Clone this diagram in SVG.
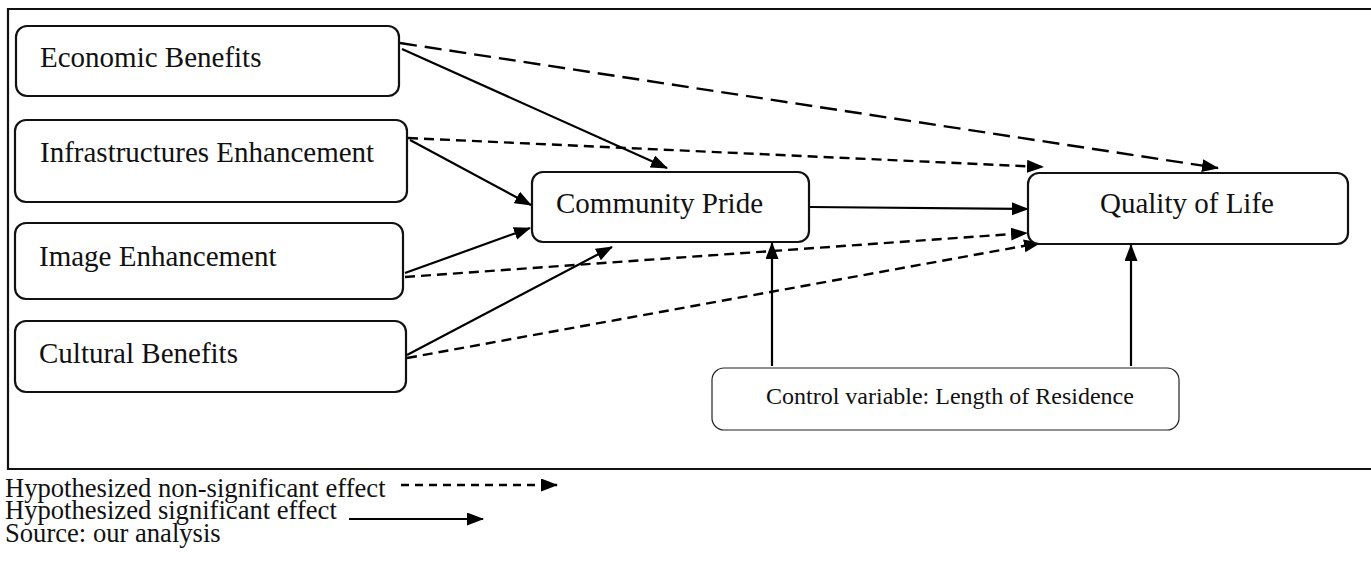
<svg xmlns="http://www.w3.org/2000/svg" width="1371" height="563" viewBox="0 0 1371 563">
  <style>
    .box { fill: #fff; stroke: #111; stroke-width: 2.2; }
    .thin { fill: #fff; stroke: #222; stroke-width: 1.2; }
    .t { font-family: "Liberation Serif", "Times New Roman", serif; fill: #111; }
    .big { font-size: 29px; }
    .mid { font-size: 24px; }
    .leg { font-size: 26.6px; }
    .solid { stroke: #000; stroke-width: 2.2; fill: none; marker-end: url(#ah); }
    .dash { stroke: #000; stroke-width: 2.4; fill: none; stroke-dasharray: 10 6; marker-end: url(#ah); }
    .ldash { stroke: #000; stroke-width: 2.4; fill: none; stroke-dasharray: 17 8; marker-end: url(#ah); }
  </style>
  <defs>
    <marker id="ah" markerUnits="userSpaceOnUse" markerWidth="18" markerHeight="14" refX="16" refY="6.5" orient="auto">
      <path d="M0,0 L17,6.5 L0,13 z" fill="#000"/>
    </marker>
  </defs>
  <rect width="1371" height="563" fill="#fff"/>
  <path d="M1373,9 L8,9 L8,469 L1373,469" fill="none" stroke="#111" stroke-width="2.2"/>

  <g id="connectors">
    <line class="ldash" x1="400" y1="43" x2="1218" y2="168"/>
    <line class="solid" x1="402" y1="49" x2="667" y2="168"/>
    <line class="dash" x1="408" y1="138" x2="1043" y2="167"/>
    <line class="solid" x1="410" y1="140" x2="531" y2="205"/>
    <line class="solid" x1="405" y1="273" x2="530" y2="228"/>
    <line class="dash" x1="405" y1="277" x2="1027" y2="233"/>
    <line class="solid" x1="407" y1="355" x2="612" y2="247"/>
    <line class="dash" x1="407" y1="358" x2="1040" y2="243"/>
    <line class="solid" x1="810" y1="207" x2="1028" y2="209"/>
    <line class="solid" x1="772" y1="366" x2="772" y2="243"/>
    <line class="solid" x1="1131" y1="366" x2="1131" y2="245"/>
  </g>

  <g id="economic">
    <rect class="box" x="16" y="26" width="383" height="70" rx="11"/>
    <text class="t big" x="40" y="67">Economic Benefits</text>
  </g>
  <g id="infrastructures">
    <rect class="box" x="15" y="120" width="392" height="82" rx="11"/>
    <text class="t big" x="40" y="162">Infrastructures Enhancement</text>
  </g>
  <g id="image">
    <rect class="box" x="15" y="223" width="388" height="76" rx="11"/>
    <text class="t big" x="39" y="266">Image Enhancement</text>
  </g>
  <g id="cultural">
    <rect class="box" x="15" y="321" width="391" height="71" rx="11"/>
    <text class="t big" x="39" y="363">Cultural Benefits</text>
  </g>
  <g id="community-pride">
    <rect class="box" x="532" y="172" width="277" height="70" rx="11"/>
    <text class="t big" x="556" y="213">Community Pride</text>
  </g>
  <g id="quality-of-life">
    <rect class="box" x="1028" y="173" width="320" height="71" rx="11"/>
    <text class="t big" x="1100" y="213">Quality of Life</text>
  </g>
  <g id="control">
    <rect class="thin" x="712" y="368" width="467" height="62" rx="12"/>
    <text class="t mid" x="766" y="404">Control variable: Length of Residence</text>
  </g>

  <g id="legend">
    <text class="t leg" x="5" y="497">Hypothesized non-significant effect</text>
    <line x1="401" y1="485" x2="557" y2="485" stroke="#000" stroke-width="2.4" stroke-dasharray="8 6" marker-end="url(#ah)"/>
    <text class="t leg" x="5" y="519">Hypothesized significant effect</text>
    <line x1="349" y1="519" x2="483" y2="519" stroke="#000" stroke-width="2.2" marker-end="url(#ah)"/>
    <text class="t leg" x="5" y="542">Source: our analysis</text>
  </g>
</svg>
